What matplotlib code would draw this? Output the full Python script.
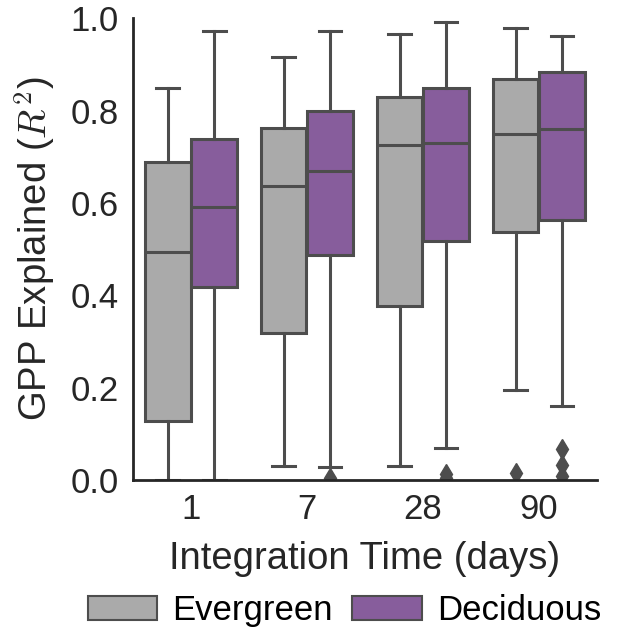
import numpy as np
import matplotlib
matplotlib.use("Agg")
import matplotlib.pyplot as plt
from matplotlib.patches import Patch

# Integration times (x categories) and box statistics
times = ["1", "7", "28", "90"]
groups = ["Evergreen", "Deciduous"]

ever_whislo = [0.000, 0.030, 0.030, 0.195]
ever_q1 = [0.128, 0.318, 0.377, 0.537]
ever_med = [0.494, 0.636, 0.725, 0.749]
ever_q3 = [0.688, 0.762, 0.829, 0.868]
ever_whishi = [0.848, 0.916, 0.965, 0.978]
ever_fliers = [[], [], [], [0.015]]

dec_whislo = [0.000, 0.028, 0.069, 0.160]
dec_q1 = [0.418, 0.487, 0.517, 0.563]
dec_med = [0.591, 0.669, 0.729, 0.760]
dec_q3 = [0.738, 0.799, 0.848, 0.883]
dec_whishi = [0.972, 0.972, 0.991, 0.961]
dec_fliers = [[], [0.004], [0.013, 0.004], [0.067, 0.032, 0.009]]

colors = ["#aaaaaa", "#875d9c"]
line_col = "#4d4d4d"
text_col = "#262626"

plt.rcParams["font.family"] = ["Liberation Sans", "DejaVu Sans"]
plt.rcParams["mathtext.fontset"] = "cm"

fig = plt.figure(figsize=(6.23, 6.30), dpi=100)
ax = fig.add_axes([0.2135, 0.238, 0.7445, 0.733])


def make_stats(lo, q1, med, q3, hi, fl):
    return [dict(whislo=a, q1=b, med=c, q3=d, whishi=e, fliers=f)
            for a, b, c, d, e, f in zip(lo, q1, med, q3, hi, fl)]


series = [
    make_stats(ever_whislo, ever_q1, ever_med, ever_q3, ever_whishi, ever_fliers),
    make_stats(dec_whislo, dec_q1, dec_med, dec_q3, dec_whishi, dec_fliers),
]

x = np.arange(len(times))
width = 0.4
lw = 2.2
for k, stats in enumerate(series):
    pos = x + (k - 0.5) * width
    ax.bxp(stats, positions=pos, widths=width * 0.98, patch_artist=True,
           showfliers=True,
           boxprops=dict(facecolor=colors[k], edgecolor=line_col, linewidth=lw),
           medianprops=dict(color=line_col, linewidth=lw),
           whiskerprops=dict(color=line_col, linewidth=lw),
           capprops=dict(color=line_col, linewidth=lw),
           flierprops=dict(marker="d", markerfacecolor=line_col,
                           markeredgecolor=line_col, markersize=10.5))

ax.set_xlim(-0.5, len(times) - 0.5)
ax.set_ylim(0, 1.0)
ax.set_xticks(x)
ax.set_xticklabels(times)
ax.set_yticks([0.0, 0.2, 0.4, 0.6, 0.8, 1.0])
ax.tick_params(length=0, labelsize=25, colors=text_col)
ax.tick_params(axis="x", pad=9)
ax.tick_params(axis="y", pad=10)
for s in ["top", "right"]:
    ax.spines[s].set_visible(False)
for s in ["left", "bottom"]:
    ax.spines[s].set_linewidth(2.0)
    ax.spines[s].set_color(text_col)

ax.set_xlabel("Integration Time (days)", fontsize=27.5, color=text_col, labelpad=11)
ax.set_ylabel(r"GPP Explained ($R^2$)", fontsize=27.5, color=text_col, labelpad=9)

handles = [Patch(facecolor=c, edgecolor=line_col, linewidth=1.5) for c in colors]
fig.legend(handles, groups, loc="lower center", bbox_to_anchor=(0.553, -0.045),
           ncol=2, frameon=False, fontsize=25, handlelength=2.0, handleheight=0.7,
           columnspacing=0.55, handletextpad=0.45)

fig.savefig("out.png", dpi=100)
